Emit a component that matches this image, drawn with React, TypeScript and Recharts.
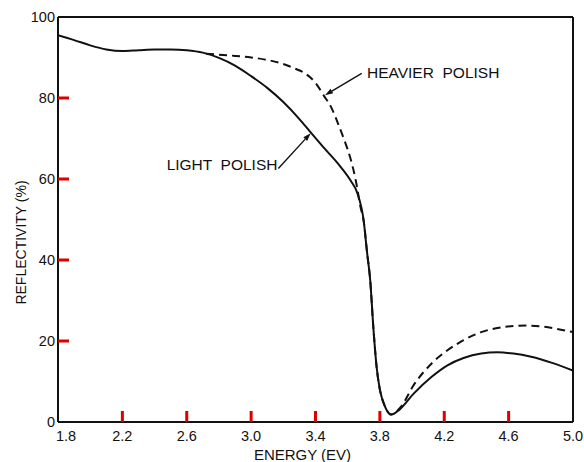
/**
 * Reflectivity vs photon energy for two surface polishes.
 * Old-style line plot: boxed frame, inward ticks, hand-lettered labels.
 */
import React from 'react';
import { LineChart, Line, XAxis, YAxis, ReferenceLine } from 'recharts';

// ── Data ─────────────────────────────────────────────────────────────────────

const X_TICKS = [1.8, 2.2, 2.6, 3.0, 3.4, 3.8, 4.2, 4.6, 5.0];
const Y_TICKS = [0, 20, 40, 60, 80, 100];

const lightEnergy = [
  1.8, 1.9, 2.0, 2.1, 2.2, 2.3, 2.4, 2.5, 2.6, 2.7, 2.8, 2.9, 3.0, 3.1, 3.2,
  3.3, 3.37, 3.45, 3.54, 3.62, 3.66, 3.7, 3.72, 3.74, 3.76, 3.78, 3.8, 3.83,
  3.87, 3.92, 4.01, 4.12, 4.22, 4.32, 4.43, 4.53, 4.63, 4.74, 4.87, 5.0,
];
const lightRefl = [
  95.5, 94.3, 93.0, 92.0, 91.6, 91.8, 92.0, 92.0, 91.8, 91.2, 89.9, 88.0, 85.4, 82.5, 79.0,
  74.8, 71.5, 67.8, 63.8, 59.5, 56.5, 49.5, 42, 35, 23, 13.5, 8, 4,
  1.8, 3.0, 7.0, 11.1, 14.0, 15.8, 16.9, 17.2, 16.9, 16.1, 14.6, 12.7,
];

const heavyEnergy = [
  2.72, 2.8, 2.9, 3.0, 3.1, 3.2, 3.27, 3.33, 3.37, 3.41, 3.45, 3.5, 3.54, 3.58,
  3.62, 3.65, 3.68, 3.7, 3.72, 3.74, 3.76, 3.78, 3.8, 3.83, 3.87, 3.93, 4.01,
  4.12, 4.22, 4.32, 4.43, 4.53, 4.63, 4.72, 4.8, 4.9, 5.0,
];
const heavyRefl = [
  90.9, 90.7, 90.4, 90.0, 89.4, 88.4, 87.3, 86.2, 85.0, 83.2, 80.7, 77.5, 73.7, 69.5,
  64.7, 59.7, 53.0, 49.5, 42, 35, 23, 13.5, 8, 4, 1.9, 3.7, 9.1,
  14.4, 17.7, 20.2, 22.2, 23.2, 23.7, 23.8, 23.6, 23.0, 22.2,
];

// callouts, in data units: text start, arrow tail, arrow tip
const calloutText = ['HEAVIER  POLISH', 'LIGHT  POLISH'];
const calloutAt = [[3.72, 84.9], [2.475, 62.2]];
const calloutFrom = [[3.687, 86.1], [3.169, 62.6]];
const calloutTo = [[3.459, 80.7], [3.37, 71.3]];

// ── Layout ───────────────────────────────────────────────────────────────────

const W = 584;
const H = 462;
const M = { top: 17, right: 11, left: 0, bottom: 0 };
const Y_AXIS_W = 58;
const X_AXIS_H = 40;
const TICK_LEN = 11;
const FONT = '"Liberation Sans", Arial, sans-serif';
const INK = '#111';
const TICK_INK = '#d00';

const plotL = M.left + Y_AXIS_W;
const plotR = W - M.right;
const plotT = M.top;
const plotB = H - M.bottom - X_AXIS_H;
const px = (e: number) => plotL + ((e - 1.8) / 3.2) * (plotR - plotL);
const py = (r: number) => plotB - (r / 100) * (plotB - plotT);

const lightData = lightEnergy.map((e, i) => ({ e, r: lightRefl[i] }));
const heavyData = heavyEnergy.map((e, i) => ({ e, r: heavyRefl[i] }));

// label text drawn by hand so 1.8 can clear the 0
function XTick(props: any) {
  const { x, payload } = props;
  const v = payload.value as number;
  const first = v === X_TICKS[0];
  return (
    <text
      x={first ? x - 2 : x}
      y={plotB + 19}
      textAnchor={first ? 'start' : 'middle'}
      fontSize={14.5}
      fontFamily={FONT}
      fill={INK}
    >
      {v.toFixed(1)}
    </text>
  );
}

function Arrow({ from, to }: { from: number[]; to: number[] }) {
  const x1 = px(from[0]), y1 = py(from[1]);
  const x2 = px(to[0]), y2 = py(to[1]);
  const a = Math.atan2(y2 - y1, x2 - x1);
  const len = 8, half = 2.6;
  const bx = x2 - len * Math.cos(a), by = y2 - len * Math.sin(a);
  const pts = [
    `${x2},${y2}`,
    `${bx + half * Math.sin(a)},${by - half * Math.cos(a)}`,
    `${bx - half * Math.sin(a)},${by + half * Math.cos(a)}`,
  ].join(' ');
  return (
    <g>
      <line x1={x1} y1={y1} x2={bx} y2={by} stroke={INK} strokeWidth={1.4} />
      <polygon points={pts} fill={INK} />
    </g>
  );
}

export default function App() {
  return (
    <div style={{ position: 'absolute', left: 0, top: 0, width: W, height: H, background: '#fff' }}>
      <LineChart width={W} height={H} margin={M}>
        <XAxis
          dataKey="e"
          type="number"
          domain={[1.8, 5.0]}
          ticks={X_TICKS}
          allowDataOverflow
          interval={0}
          height={X_AXIS_H}
          tick={<XTick />}
          tickLine={false}
          axisLine={{ stroke: INK, strokeWidth: 2 }}
        />
        <YAxis
          type="number"
          domain={[0, 100]}
          ticks={Y_TICKS}
          allowDataOverflow
          interval={0}
          width={Y_AXIS_W}
          tick={{ fontSize: 14.5, fill: INK, fontFamily: FONT }}
          tickSize={0}
          tickMargin={3}
          tickLine={false}
          axisLine={{ stroke: INK, strokeWidth: 2 }}
        />
        <ReferenceLine y={100} stroke={INK} strokeWidth={2} />
        <ReferenceLine x={5.0} stroke={INK} strokeWidth={2} />
        <Line
          data={lightData}
          dataKey="r"
          type="monotone"
          stroke={INK}
          strokeWidth={2}
          dot={false}
          isAnimationActive={false}
        />
        <Line
          data={heavyData}
          dataKey="r"
          type="monotone"
          stroke={INK}
          strokeWidth={2}
          strokeDasharray="8 5"
          dot={false}
          isAnimationActive={false}
        />
      </LineChart>

      {/* inward tick marks, axis titles and callouts */}
      <svg width={W} height={H} style={{ position: 'absolute', left: 0, top: 0, pointerEvents: 'none' }}>
        {X_TICKS.slice(1, -1).map((t) => (
          <rect key={`x${t}`} x={px(t) - 1.5} y={plotB - TICK_LEN} width={3} height={TICK_LEN} fill={TICK_INK} />
        ))}
        {Y_TICKS.slice(1, -1).map((t) => (
          <rect key={`y${t}`} x={plotL} y={py(t) - 1.5} width={TICK_LEN} height={3} fill={TICK_INK} />
        ))}
        <text x={302.5} y={460} textAnchor="middle" fontSize={15} fontFamily={FONT} fill={INK}>
          ENERGY (EV)
        </text>
        <text
          x={26}
          y={242.5}
          transform="rotate(-90 26 242.5)"
          textAnchor="middle"
          fontSize={14}
          fontFamily={FONT}
          fill={INK}
        >
          REFLECTIVITY (%)
        </text>
        {calloutText.map((t, i) => (
          <g key={t}>
            <text
              x={px(calloutAt[i][0])}
              y={py(calloutAt[i][1])}
              fontSize={15.5}
              fontFamily={FONT}
              fill={INK}
              style={{ whiteSpace: 'pre' }}
            >
              {t}
            </text>
            <Arrow from={calloutFrom[i]} to={calloutTo[i]} />
          </g>
        ))}
      </svg>
    </div>
  );
}
